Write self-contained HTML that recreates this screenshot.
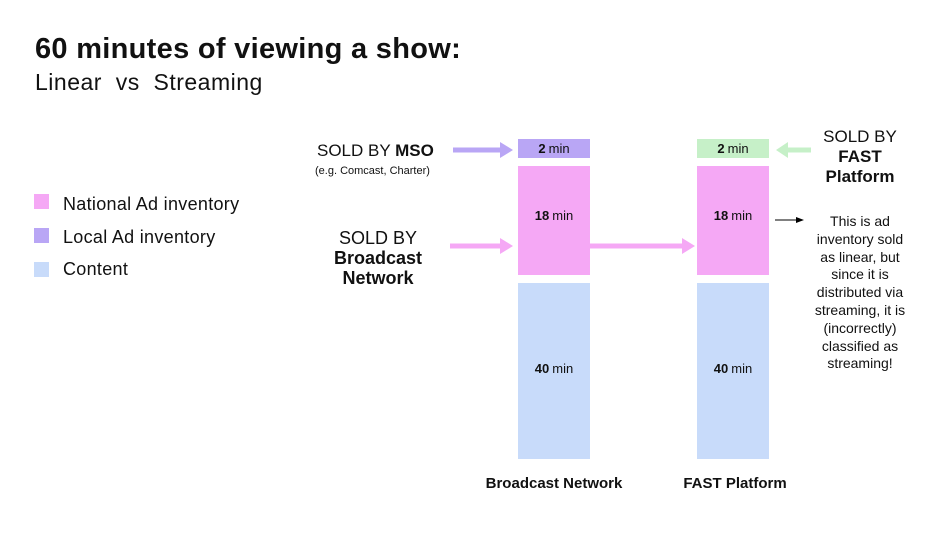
<!DOCTYPE html>
<html><head><meta charset="utf-8"><style>
body{margin:0;width:936px;height:536px;background:#fff;position:relative;overflow:hidden;font-family:"Liberation Sans",Arial,sans-serif;color:#111}
.a{position:absolute;white-space:nowrap}
.c{text-align:center}
.box{position:absolute;display:flex;align-items:center;justify-content:center;font-size:13px}
.box b{margin-right:3px}
.sq{position:absolute;left:34px;width:15px;height:15px}
</style></head><body>
<div class="a" style="left:35px;top:33px;font-size:29px;font-weight:bold;letter-spacing:0.3px">60 minutes of viewing a show:</div>
<div class="a" style="left:35px;top:69px;font-size:23px;letter-spacing:0.5px">Linear&nbsp; vs&nbsp; Streaming</div>

<div class="sq" style="top:194px;background:#f5a8f5"></div>
<div class="sq" style="top:228px;background:#b9a6f5"></div>
<div class="sq" style="top:262px;background:#c8dbfa"></div>
<div class="a" style="left:63px;top:194px;font-size:18px;letter-spacing:0.3px">National Ad inventory</div>
<div class="a" style="left:63px;top:227px;font-size:18px;letter-spacing:0.3px">Local Ad inventory</div>
<div class="a" style="left:63px;top:259px;font-size:18px;letter-spacing:0.3px">Content</div>

<div class="a" style="left:317px;top:141px;font-size:17px">SOLD BY <b>MSO</b></div>
<div class="a" style="left:315px;top:165px;font-size:11px">(e.g. Comcast, Charter)</div>
<div class="a c" style="left:318px;top:228px;width:120px;font-size:18px;line-height:20px">SOLD BY<br><b>Broadcast<br>Network</b></div>

<div class="a c" style="left:800px;top:127px;width:120px;font-size:17px;line-height:20px">SOLD BY<br><b>FAST<br>Platform</b></div>
<div class="a c" style="left:800px;top:213px;width:120px;font-size:14px;line-height:17.8px">This is ad<br>inventory sold<br>as linear, but<br>since it is<br>distributed via<br>streaming, it is<br>(incorrectly)<br>classified as<br>streaming!</div>

<div class="box" style="left:518px;top:139px;width:72px;height:19px;background:#b9a6f5"><b>2</b>min</div>
<div class="box" style="left:518px;top:166px;width:72px;height:109px;background:#f5a8f5;align-items:flex-start;padding-top:42px;box-sizing:border-box"><b>18</b>min</div>
<div class="box" style="left:518px;top:283px;width:72px;height:176px;background:#c8dbfa;align-items:flex-start;padding-top:78px;box-sizing:border-box"><b>40</b>min</div>

<div class="box" style="left:697px;top:139px;width:72px;height:19px;background:#c6f0c8"><b>2</b>min</div>
<div class="box" style="left:697px;top:166px;width:72px;height:109px;background:#f5a8f5;align-items:flex-start;padding-top:42px;box-sizing:border-box"><b>18</b>min</div>
<div class="box" style="left:697px;top:283px;width:72px;height:176px;background:#c8dbfa;align-items:flex-start;padding-top:78px;box-sizing:border-box"><b>40</b>min</div>

<div class="a c" style="left:474px;top:475px;width:160px;font-size:15px;font-weight:bold">Broadcast Network</div>
<div class="a c" style="left:655px;top:475px;width:160px;font-size:15px;font-weight:bold">FAST Platform</div>

<svg class="a" style="left:0;top:0" width="936" height="536">
<line x1="453" y1="150" x2="502" y2="150" stroke="#b9a6f5" stroke-width="5"/>
<polygon points="500,142 513,150 500,158" fill="#b9a6f5"/>
<line x1="450" y1="246" x2="502" y2="246" stroke="#f5a8f5" stroke-width="5"/>
<polygon points="500,238 513,246 500,254" fill="#f5a8f5"/>
<line x1="590" y1="246" x2="684" y2="246" stroke="#f5a8f5" stroke-width="5"/>
<polygon points="682,238 695,246 682,254" fill="#f5a8f5"/>
<line x1="811" y1="150" x2="786" y2="150" stroke="#c6f0c8" stroke-width="5"/>
<polygon points="788,142 776,150 788,158" fill="#c6f0c8"/>
<line x1="775" y1="220" x2="798" y2="220" stroke="#000" stroke-width="1"/>
<polygon points="796,217 804,220 796,223" fill="#000"/>
</svg>
</body></html>
